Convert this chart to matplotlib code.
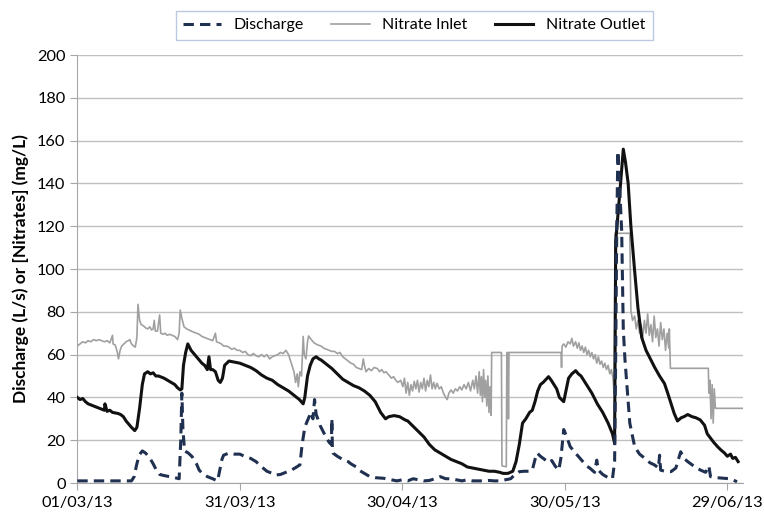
import numpy as np
import pandas as pd
from matplotlib import pyplot as plt
import matplotlib.dates as mdates

# Data (day offset from 01/03/2013, value)
start = pd.Timestamp("2013-03-01")

discharge_days = [0, 2, 4, 6, 8, 10, 10.5, 10.9, 11.4, 12, 12.6, 13.3, 14, 14.6, 15.2, 16, 17, 18, 18.8,
                  19.1, 19.3, 19.5, 19.8, 20.5, 21.2, 22, 22.5, 23.1, 24, 25, 25.9, 26.3, 26.7, 27, 28, 29,
                  30, 31, 32, 33, 34, 35, 36, 36.5, 37.5, 38.5, 39.5, 40.5, 41.1, 41.5, 42, 42.3, 42.8,
                  43.2, 43.5, 43.8, 44.1, 44.4, 44.8, 45.2, 45.6, 46, 46.5, 46.9, 47, 47.1, 47.2, 48, 49,
                  50, 50.5, 51.5, 52, 53, 54, 55, 56.6, 58, 59, 60, 61, 62, 63, 64, 65, 66, 67, 68, 69,
                  70, 71, 72, 73, 74, 75, 76, 77, 78, 79, 80, 80.8, 81.6, 82.5, 83.5, 84, 84.5, 84.9,
                  85.5, 86.3, 87.1, 87.6, 88.2, 88.9, 89.3, 89.8, 90.3, 91, 92, 93, 94, 94.6, 95.5, 95.9,
                  96.2, 97, 98, 98.8, 99.2, 99.4, 99.6, 99.8, 100.1, 100.5, 100.8, 101.1, 101.4, 102,
                  102.9, 103.8, 104.8, 105.7, 106.6, 107.3, 107.5, 107.7, 108.5, 109.6, 110.5, 111.4,
                  112, 112.7, 113.5, 114.3, 115.1, 116, 116.6, 116.9, 118, 119.4, 120.5, 121, 121.8]
discharge = [1, 1, 1, 1, 1, 1, 3, 8, 13, 15, 14, 12, 9, 6, 4, 3.5, 3, 2.5, 2,
             20, 42, 25, 15, 14, 12.3, 9, 6, 4.5, 3, 2, 1, 6, 11, 13, 14, 13.5,
             13.5, 12.3, 11.5, 10, 7.6, 5.5, 4.5, 3.7, 4, 5, 6, 7.5, 8.5, 18, 26, 28, 31,
             33, 30, 39, 32, 30, 27, 25, 23, 21, 19, 18, 30, 15, 14, 12.5, 11,
             10, 9, 7.5, 6, 4.5, 3, 2.5, 2.2, 1.5, 1, 1.5, 1, 2, 1.5, 1, 1.2, 2, 3, 2, 2,
             1.5, 1, 1.5, 1, 1, 1, 1.2, 1, 1, 1.5, 2, 4, 5.3, 5.5, 5.5, 6, 11, 14,
             12.5, 11, 9.5, 10.5, 8, 6, 12, 25, 22, 17, 13.9, 11, 8, 7, 5, 10.7,
             6, 4, 2.5, 2, 10, 60, 120, 155, 140, 118, 72, 58, 48, 28,
             17, 13.5, 11.5, 9.5, 8.4, 7, 13, 6, 5.5, 5.3, 7, 14.6,
             11.5, 10, 8.5, 7, 6, 5, 8, 3, 2.5, 2.2, 2, 1.5, 0.6]

inlet_days = [0, 0.5, 1, 1.5, 2, 2.5, 3, 3.5, 4, 4.5, 5, 5.5, 6, 6.5, 6.6, 7, 7.4, 7.6, 7.9, 8.2, 8.6, 9,
              9.4, 9.7, 10, 10.4, 10.7, 11, 11.2, 11.5, 11.8, 12.2, 12.6, 13, 13.4, 13.7, 14, 14.2, 14.4,
              14.8, 15.2, 15.4, 15.8, 16.2, 16.6, 17, 17.5, 18, 18.5, 18.8, 19, 19.3, 19.7, 20.2, 21, 22,
              22.5, 23, 23.5, 24, 24.5, 25, 25.5, 25.7, 26.2, 26.6, 27, 27.5, 28, 28.5, 29, 29.5, 30,
              30.5, 31, 31.5, 32, 32.5, 33, 33.5, 34, 34.5, 35, 35.5, 36, 36.5, 37, 37.5, 38, 38.5, 39,
              39.5, 40, 40.3, 40.6, 40.8, 41.1, 41.4, 41.7, 41.9, 42.2, 42.5, 42.7, 43.2, 43.7, 44.4, 45,
              45.5, 46, 46.5, 47, 47.5, 48, 48.5, 49, 49.5, 50, 50.5, 51, 51.5, 52, 52.5, 52.8, 53, 53.3,
              53.8, 54.3, 54.8, 55.4, 55.8, 56.2, 56.6, 57, 57.5, 58, 58.4, 58.8, 59.2, 59.7, 60.1, 60.4,
              60.7, 61, 61.3, 61.6, 61.9, 62.2, 62.5, 62.8, 63.1, 63.4, 63.7, 64, 64.3, 64.6, 64.9, 65.2,
              65.5, 65.8, 66.1, 66.4, 66.8, 67.2, 67.6, 68, 68.3, 68.6, 69, 69.4, 69.8, 70.2, 70.6, 71,
              71.4, 71.8, 72.2, 72.6, 73, 73.3, 73.6, 73.9, 74.2, 74.4, 74.6, 74.8, 75, 75.2, 75.4, 75.6,
              75.8, 76, 76.2, 76.4, 76.5, 78.3, 78.4, 79.2, 79.3, 79.5, 79.6, 79.7, 89.3, 89.4, 89.5,
              89.8, 90.2, 90.6, 91, 91.3, 91.6, 92, 92.3, 92.6, 92.9, 93.2, 93.5, 93.8, 94.1, 94.4, 94.7,
              95, 95.3, 95.6, 95.9, 96.2, 96.5, 96.8, 97.1, 97.4, 97.7, 98, 98.3, 98.6, 98.9, 99.1, 99.3,
              102, 102.2, 102.5, 102.9, 103.2, 103.5, 103.8, 104.1, 104.4, 104.7, 105, 105.3, 105.6,
              105.9, 106.2, 106.5, 106.8, 107.1, 107.4, 107.7, 108, 108.3, 108.6, 108.9, 109.2, 109.3,
              109.5, 116.5, 116.6, 116.8, 117, 117.2, 117.4, 117.6, 117.8, 117.9, 123]
inlet = [64, 65, 66, 65.5, 66.5, 66, 67, 66.5, 67, 66.5, 66, 66.5, 65.5, 69, 65, 64.5, 61, 58, 62, 64, 65, 66,
         66.5, 67, 65, 64, 63.5, 68, 83.5, 76, 74, 73.5, 72.5, 72, 73, 71.5, 72, 76, 71,
         71, 78.5, 70, 69.5, 70, 69, 69.5, 69, 68.5, 67, 70, 80.8, 77, 73, 72, 71, 70,
         69.5, 68.5, 68, 67.5, 67, 66.5, 70, 66, 65.5, 65, 64, 64, 63.5, 62.5, 63, 62, 62,
         61, 61.5, 60, 59.5, 60.5, 59.5, 59, 60, 59, 60, 58, 59, 59.5, 60, 61, 60.5, 62, 60,
         56, 52, 47, 51, 45, 52, 50, 68.5, 60, 58, 66, 68.7, 67, 65.5, 64.5, 64,
         63, 62.5, 62, 61.5, 61.5, 60.5, 61, 59, 58, 57, 56, 55.5, 54, 53.5, 53, 58, 55, 52,
         53.5, 52.5, 54, 53.5, 52, 53, 51.5, 52, 50.5, 49, 49.7, 48, 47, 48, 45, 49,
         42, 47, 41, 46, 43, 47.5, 44, 48, 42.5, 47, 44, 49, 43, 48, 45, 50.5,
         44, 47, 44, 46.6, 44, 45, 42, 40, 39, 42, 43.5, 42, 44, 43, 45, 43.5,
         46, 44, 47, 43, 48, 44, 50, 42, 52, 41, 49.7, 38, 53, 40, 48, 36,
         50, 33, 45, 31.6, 61, 61, 8, 7.6, 61, 61, 30, 61, 61, 54, 64,
         65, 63.5, 66, 65, 67.6, 64, 66, 63, 65.5, 62, 64, 61, 63.5, 60, 62, 59,
         61, 58, 60, 56, 59, 55.5, 57, 54, 56, 53, 55, 51, 53, 49, 42, 116.7,
         116.7, 80.8, 76, 78, 72, 76, 70, 74, 68, 76, 70, 79, 69,
         74, 66, 78, 68, 72, 64, 75, 67, 72, 62, 70, 63, 72,
         53.6, 53.6, 42, 48, 30, 46, 28, 44, 35, 34.9, 34.9]

outlet_days = [0, 0.5, 1, 1.5, 2, 3, 4, 4.5, 5, 5.1, 5.5, 6, 6.5, 7.5, 8, 8.5, 9, 9.5, 10, 10.6, 11, 11.5,
               12, 12.4, 13, 13.5, 14, 14.5, 15, 16, 17, 18, 18.5, 19, 19.3, 19.6, 20, 20.4, 21, 21.5,
               22, 23, 23.5, 24, 24.3, 24.6, 25, 25.5, 26, 26.4, 26.8, 27.2, 27.6, 28, 29, 30, 31, 32,
               33, 34, 35, 36, 37, 38, 39, 40, 41, 41.7, 42, 42.5, 43, 43.5, 44.1, 44.6, 45, 46, 47,
               48, 49, 50, 51, 52, 53, 54, 55, 56, 56.9, 57.5, 58.5, 59.5, 60.5, 61, 62, 63, 64, 65,
               66, 67, 68, 69, 70, 71, 72, 73, 74, 75, 76, 77, 78, 78.6, 79.5, 80.4, 81, 81.6, 82.2,
               82.8, 83.5, 84, 84.5, 85, 85.5, 86, 87, 87.5, 88, 88.5, 89, 89.8, 90.3, 90.7, 91.3, 92,
               92.5, 93, 94, 95, 96, 97, 98, 98.8, 99.2, 99.4, 99.8, 100.3, 100.8, 101.2, 101.7, 102.2,
               102.9, 103.5, 104.2, 105, 106, 106.6, 107.5, 108.4, 109, 109.5, 110.2, 110.8, 111.5, 112,
               112.7, 113.5, 114.2, 115, 115.8, 116.3, 116.9, 117.5, 118.2, 118.8, 119.5, 120, 120.6,
               121, 121.5, 122]
outlet = [40, 39, 39.5, 38, 37, 36, 35, 34.5, 34, 37, 33.5, 34, 33, 32.5, 32, 31, 29, 27.5, 26, 24.5, 26, 35,
          46, 51, 52, 51, 51.5, 50, 50, 49, 47.5, 46, 44.5, 43.5, 44, 55, 61, 65, 62, 60.5,
          59, 56, 55, 53, 59, 53, 53, 52, 48, 47, 49, 55, 56, 57, 56.5, 56, 55, 54,
          52.5, 50.5, 49, 48, 46, 44.5, 43, 41, 39, 37, 40, 50, 55, 58, 59, 58, 57.5, 55.5, 53.5,
          51, 48.5, 47, 45.5, 44.5, 43, 41, 38, 33, 30, 31, 31.5, 31, 29.5, 29, 26.5, 24, 21.5, 18,
          15.5, 14, 12.5, 11, 10, 9, 7.5, 7, 6.5, 6, 5.5, 5.5, 5, 4.5, 4.5, 5.5, 10, 18, 28,
          30, 33, 34, 38, 43, 46, 47, 49.7, 48, 46, 44, 40, 38, 44, 49, 51, 52.5,
          51, 50, 46, 42, 37, 33, 28, 23, 18.5, 113, 125, 140, 156, 150, 140, 120,
          99, 82, 68, 62, 57, 54, 50, 46.5, 42, 38, 32.5, 29, 30.5, 31,
          32, 31, 30.5, 29.5, 27, 23, 21, 19, 17, 15.5, 14, 12.5, 13.5,
          11.5, 12, 10]

y_ticks = [0, 20, 40, 60, 80, 100, 120, 140, 160, 180, 200]
x_tick_offsets = [0, 30, 60, 90, 120]


def to_dates(days):
    return start + pd.to_timedelta(np.asarray(days, dtype=float), unit="D")


plt.rcParams['font.family'] = ['Lato', 'DejaVu Sans']

fig = plt.figure(figsize=(7.64, 5.15), dpi=100)
ax = fig.add_axes([0.1012, 0.0621, 0.8713, 0.8311])

ax.plot(to_dates(discharge_days), discharge, color='#1f3050', lw=2.2,
        linestyle=(0, (3.4, 2.0)), label='Discharge', zorder=4)
ax.plot(to_dates(inlet_days), inlet, color='#a0a0a0', lw=1.2, label='Nitrate Inlet', zorder=2)
ax.plot(to_dates(outlet_days), outlet, color='#111111', lw=2.2, label='Nitrate Outlet', zorder=3)

ax.set_ylim(0, 200)
ax.set_yticks(y_ticks)
ax.set_xlim(start, start + pd.Timedelta(days=122.9))
ax.set_xticks(to_dates(x_tick_offsets))
ax.xaxis.set_major_formatter(mdates.DateFormatter('%d/%m/%y'))

ax.grid(axis='y', color='#c0c0c0', lw=1.0)
ax.set_axisbelow(True)
for side in ['top', 'right']:
    ax.spines[side].set_visible(False)
for side in ['left', 'bottom']:
    ax.spines[side].set_color('#a6a6a6')
ax.tick_params(axis='both', colors='#a6a6a6', labelcolor='black', labelsize=11.8, length=5)
ax.tick_params(axis='x', pad=4)

ax.set_ylabel('Discharge (L/s) or [Nitrates] (mg/L)', fontsize=12.5, fontweight='bold', labelpad=6)

leg = fig.legend(loc='center', bbox_to_anchor=(0.542, 0.951), ncol=3, fontsize=11.5,
                 frameon=True, fancybox=False, handlelength=2.4, columnspacing=1.7,
                 borderpad=0.45)
leg.get_frame().set_edgecolor('#a9bcd8')
leg.get_frame().set_linewidth(1.0)

fig.savefig('out.png', dpi=100)
